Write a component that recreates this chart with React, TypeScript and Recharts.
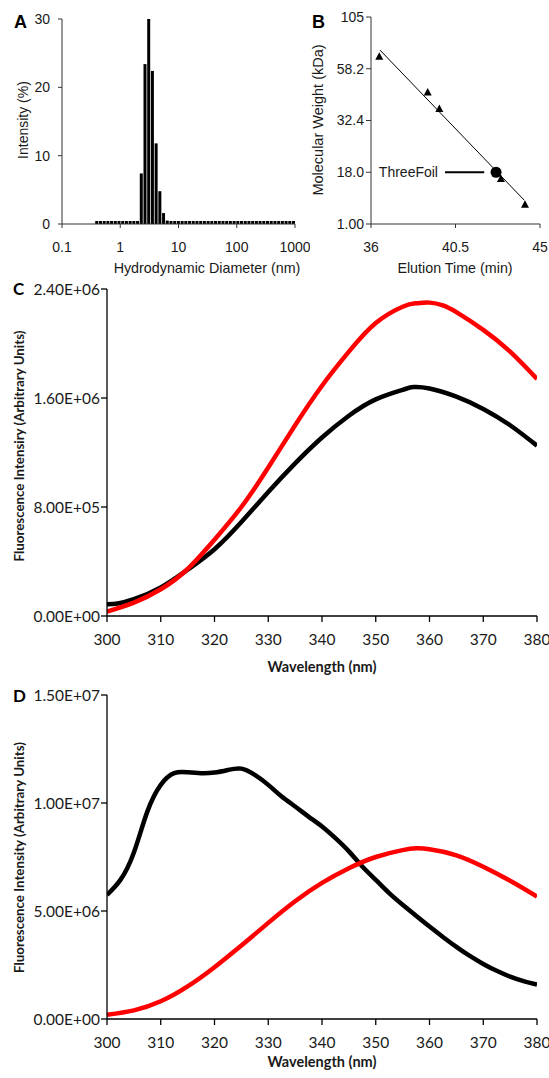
import React from 'react';
import { ComposedChart, Bar, Line, Scatter, XAxis, YAxis, ReferenceLine } from 'recharts';

// ---------- Panel A: DLS size distribution ----------
const dlsDiameters = [
  0.4, 0.4632, 0.5365, 0.6213, 0.7195, 0.8332, 0.9649, 1.117, 1.294, 1.499, 1.736, 2.01,
  2.328, 2.696, 3.122, 3.615, 4.187, 4.849, 5.615, 6.503,
  7.531, 8.721, 10.1, 11.7, 13.54, 15.69, 18.17, 21.04, 24.36, 28.21, 32.67, 37.84, 43.82,
  50.75, 58.77, 68.06, 78.82, 91.28, 105.7, 122.4, 141.8, 164.2, 190.1, 220.2, 255.0,
  295.3, 342.0, 396.1, 458.7, 531.2, 615.1, 712.4, 825.0, 955.4,
];
const dlsIntensity = [
  0, 0, 0, 0, 0, 0, 0, 0, 0, 0, 0, 0,
  7.4, 23.4, 30, 22.4, 11.8, 4.8, 1.6, 0.5,
  0, 0, 0, 0, 0, 0, 0, 0, 0, 0, 0, 0, 0,
  0, 0, 0, 0, 0, 0, 0, 0, 0, 0, 0, 0,
  0, 0, 0, 0, 0, 0, 0, 0, 0,
];
const dlsXTicks = [0.1, 1, 10, 100, 1000];
const dlsXLabels = ['0.1', '1', '10', '100', '1000'];
const dlsYTicks = [0, 10, 20, 30];

// ---------- Panel B: SEC calibration ----------
const mwTickPos = [0, 1, 2, 3, 4];
const mwTickLabels = ['1.00', '18.0', '32.4', '58.2', '105'];
const elutionTicks = [36, 40.5, 45];
const elutionLabels = ['36', '40.5', '45'];
const standardTimes = [36.44, 39.02, 39.64, 42.92, 44.2];
const standardMw = [3.23, 2.54, 2.22, 0.87, 0.37];
const fitTimes = [36.48, 44.16];
const fitMw = [3.36, 0.46];
const threeFoilTime = [42.66];
const threeFoilMw = [1.0];
const pointerTimes = [39.94, 42.03];

// ---------- Panel C ----------
const wlTicks = [300, 310, 320, 330, 340, 350, 360, 370, 380];
const cYTicks = [0, 800000, 1600000, 2400000];
const cYLabels = ['0.00E+00', '8.00E+05', '1.60E+06', '2.40E+06'];
const cBlackWl = [300, 302, 305, 310, 315, 320, 325, 330, 335, 340, 345, 350, 355, 357, 360, 365, 370, 375, 380];
const cBlackVal = [86000, 92000, 123000, 210000, 340000, 490000, 690000, 910000, 1120000, 1310000, 1470000, 1590000, 1660000, 1680000, 1670000, 1610000, 1520000, 1400000, 1250000];
const cRedWl = [300, 305, 310, 315, 320, 325, 330, 335, 340, 345, 350, 355, 357.5, 360, 362.5, 365, 370, 375, 380];
const cRedVal = [32000, 98000, 196000, 345000, 560000, 800000, 1090000, 1400000, 1690000, 1940000, 2150000, 2270000, 2295000, 2300000, 2280000, 2230000, 2100000, 1940000, 1740000];

// ---------- Panel D ----------
const dYTicks = [0, 5000000, 10000000, 15000000];
const dYLabels = ['0.00E+00', '5.00E+06', '1.00E+07', '1.50E+07'];
const dBlackWl = [300, 302.5, 305, 307.5, 310, 312.5, 315, 317.5, 320, 322.5, 325, 327.5, 330, 332.5, 335, 337.5, 340, 342.5, 345, 347.5, 350, 352.5, 355, 357.5, 360, 362.5, 365, 367.5, 370, 372.5, 375, 377.5, 380];
const dBlackVal = [5750000, 6440000, 7710000, 9600000, 10840000, 11380000, 11420000, 11380000, 11410000, 11530000, 11590000, 11300000, 10840000, 10300000, 9840000, 9370000, 8910000, 8370000, 7760000, 7060000, 6440000, 5830000, 5290000, 4780000, 4280000, 3800000, 3340000, 2920000, 2550000, 2230000, 1960000, 1750000, 1590000];
const dRedWl = [300, 305, 310, 315, 320, 325, 330, 335, 340, 345, 350, 355, 357.5, 360, 365, 370, 375, 380];
const dRedVal = [200000, 400000, 820000, 1510000, 2400000, 3400000, 4450000, 5450000, 6300000, 6980000, 7500000, 7820000, 7900000, 7860000, 7580000, 7050000, 6400000, 5670000];

const ARIAL = '"Liberation Sans", Arial, sans-serif';
const CALIBRI = 'Lato, "Noto Sans", sans-serif';
const TXT = '#1a1a1a';

const zip = (xs: number[], ys: number[], kx: string, ky: string) =>
  xs.map((x, i) => ({ [kx]: x, [ky]: ys[i] }));

const dlsData = zip(dlsDiameters, dlsIntensity, 'd', 'v');
const stdData = zip(standardTimes, standardMw, 't', 'm');
const fitData = zip(fitTimes, fitMw, 't', 'm');
const tfData = zip(threeFoilTime, threeFoilMw, 't', 'm');
const cBlack = zip(cBlackWl, cBlackVal, 'w', 'v');
const cRed = zip(cRedWl, cRedVal, 'w', 'v');
const dBlack = zip(dBlackWl, dBlackVal, 'w', 'v');
const dRed = zip(dRedWl, dRedVal, 'w', 'v');

const Triangle = (p: any) => {
  const { cx, cy } = p;
  if (cx == null || cy == null) return null;
  return <polygon points={`${cx},${cy - 4.5} ${cx - 4},${cy + 3} ${cx + 4},${cy + 3}`} fill="#000" />;
};
const BigDot = (p: any) => {
  const { cx, cy } = p;
  if (cx == null || cy == null) return null;
  return <circle cx={cx} cy={cy} r={5.5} fill="#000" />;
};

const abTick = { fontFamily: ARIAL, fontSize: 14, fill: TXT };
const cdTick = { fontFamily: CALIBRI, fontSize: 15.5, fill: TXT };

export default function App() {
  return (
    <div style={{ position: 'absolute', left: 0, top: 0, width: 549, height: 1078, background: '#fff' }}>
      {/* Panel A */}
      <div style={{ position: 'absolute', left: 0, top: 0 }}>
        <ComposedChart width={310} height={285} data={dlsData} margin={{ top: 19, right: 15, bottom: 0, left: 0 }}>
          <XAxis
            dataKey="d"
            type="number"
            scale="log"
            domain={[0.1, 1000]}
            ticks={dlsXTicks}
            tickFormatter={(v: number) => dlsXLabels[dlsXTicks.indexOf(v)] ?? String(v)}
            height={61}
            tickSize={4}
            tickMargin={14}
            tick={abTick}
            stroke="#333"
            allowDataOverflow
          />
          <YAxis
            type="number"
            domain={[0, 30]}
            ticks={dlsYTicks}
            width={62}
            tickSize={4}
            tickMargin={8}
            tick={abTick}
            stroke="#333"
          />
          <Bar dataKey="v" fill="#000" barSize={3} minPointSize={3} isAnimationActive={false} />
          <text x={14} y={28} fontFamily={ARIAL} fontSize={18} fontWeight="bold" fill="#000">A</text>
          <text transform="translate(23,120) rotate(-90)" textAnchor="middle" dy="0.35em" fontFamily={ARIAL} fontSize={14} fill={TXT}>Intensity (%)</text>
          <text x={207} y={268} textAnchor="middle" dy="0.35em" fontFamily={ARIAL} fontSize={14.3} fill={TXT}>Hydrodynamic Diameter (nm)</text>
        </ComposedChart>
      </div>

      {/* Panel B */}
      <div style={{ position: 'absolute', left: 290, top: 0 }}>
        <ComposedChart width={259} height={285} margin={{ top: 17, right: 9, bottom: 0, left: 0 }}>
          <XAxis
            dataKey="t"
            type="number"
            domain={[36, 45]}
            ticks={elutionTicks}
            tickFormatter={(v: number) => elutionLabels[elutionTicks.indexOf(v)] ?? String(v)}
            height={61}
            tickSize={4}
            tickMargin={14}
            tick={abTick}
            stroke="#333"
            allowDataOverflow
          />
          <YAxis
            dataKey="m"
            type="number"
            domain={[0, 4]}
            ticks={mwTickPos}
            tickFormatter={(v: number) => mwTickLabels[v] ?? ''}
            width={81}
            tickSize={5}
            tickMargin={2}
            tick={abTick}
            stroke="#333"
          />
          <Line data={fitData} dataKey="m" type="linear" stroke="#000" strokeWidth={1} dot={false} isAnimationActive={false} />
          <ReferenceLine
            segment={[{ x: pointerTimes[0], y: threeFoilMw[0] }, { x: pointerTimes[1], y: threeFoilMw[0] }]}
            stroke="#000"
            strokeWidth={2}
            label={{ value: 'ThreeFoil', position: 'left', offset: 7, fill: TXT, fontSize: 14, fontFamily: ARIAL }}
          />
          <Scatter data={stdData} dataKey="m" shape={Triangle} isAnimationActive={false} />
          <Scatter data={tfData} dataKey="m" shape={BigDot} isAnimationActive={false} />
          <text x={22} y={28} fontFamily={ARIAL} fontSize={18} fontWeight="bold" fill="#000">B</text>
          <text transform="translate(28,120) rotate(-90)" textAnchor="middle" dy="0.35em" fontFamily={ARIAL} fontSize={14.5} fill={TXT}>Molecular Weight (kDa)</text>
          <text x={165} y={268} textAnchor="middle" dy="0.35em" fontFamily={ARIAL} fontSize={14.3} fill={TXT}>Elution Time (min)</text>
        </ComposedChart>
      </div>

      {/* Panel C */}
      <div style={{ position: 'absolute', left: 0, top: 270 }}>
        <ComposedChart width={549} height={410} margin={{ top: 19, right: 12, bottom: 0, left: 0 }}>
          <XAxis
            dataKey="w"
            type="number"
            domain={[300, 380]}
            ticks={wlTicks}
            height={64}
            tickSize={6}
            tickMargin={12}
            tick={cdTick}
            stroke="#000"
            strokeWidth={1.3}
            allowDataOverflow
          />
          <YAxis
            type="number"
            domain={[0, 2400000]}
            ticks={cYTicks}
            tickFormatter={(v: number) => cYLabels[cYTicks.indexOf(v)] ?? ''}
            width={107}
            tickSize={6}
            tickMargin={1}
            tick={cdTick}
            stroke="#000"
            strokeWidth={1.3}
          />
          <Line data={cBlack} dataKey="v" type="natural" stroke="#000" strokeWidth={4.5} dot={false} isAnimationActive={false} />
          <Line data={cRed} dataKey="v" type="natural" stroke="#ff0000" strokeWidth={4.5} dot={false} isAnimationActive={false} />
          <text x={13} y={25} fontFamily={CALIBRI} fontSize={17} fontWeight="bold" fill="#000">C</text>
          <text transform="translate(19,176) rotate(-90)" textAnchor="middle" dy="0.35em" fontFamily={CALIBRI} fontSize={13.3} fontWeight="bold" fill={TXT}>Fluorescence Intensiry (Arbitrary Units)</text>
          <text x={322} y={397} textAnchor="middle" dy="0.35em" fontFamily={CALIBRI} fontSize={14.5} fontWeight="bold" fill={TXT}>Wavelength (nm)</text>
        </ComposedChart>
      </div>

      {/* Panel D */}
      <div style={{ position: 'absolute', left: 0, top: 680 }}>
        <ComposedChart width={549} height={398} margin={{ top: 15, right: 12, bottom: 0, left: 0 }}>
          <XAxis
            dataKey="w"
            type="number"
            domain={[300, 380]}
            ticks={wlTicks}
            height={59}
            tickSize={6}
            tickMargin={12}
            tick={cdTick}
            stroke="#000"
            strokeWidth={1.3}
            allowDataOverflow
          />
          <YAxis
            type="number"
            domain={[0, 15000000]}
            ticks={dYTicks}
            tickFormatter={(v: number) => dYLabels[dYTicks.indexOf(v)] ?? ''}
            width={107}
            tickSize={6}
            tickMargin={1}
            tick={cdTick}
            stroke="#000"
            strokeWidth={1.3}
          />
          <Line data={dBlack} dataKey="v" type="natural" stroke="#000" strokeWidth={4.5} dot={false} isAnimationActive={false} />
          <Line data={dRed} dataKey="v" type="natural" stroke="#ff0000" strokeWidth={4.5} dot={false} isAnimationActive={false} />
          <text x={13} y={22} fontFamily={CALIBRI} fontSize={17} fontWeight="bold" fill="#000">D</text>
          <text transform="translate(19,177.5) rotate(-90)" textAnchor="middle" dy="0.35em" fontFamily={CALIBRI} fontSize={13.3} fontWeight="bold" fill={TXT}>Fluorescence Intensity (Arbitrary Units)</text>
          <text x={322} y={382} textAnchor="middle" dy="0.35em" fontFamily={CALIBRI} fontSize={14.5} fontWeight="bold" fill={TXT}>Wavelength (nm)</text>
        </ComposedChart>
      </div>
    </div>
  );
}
